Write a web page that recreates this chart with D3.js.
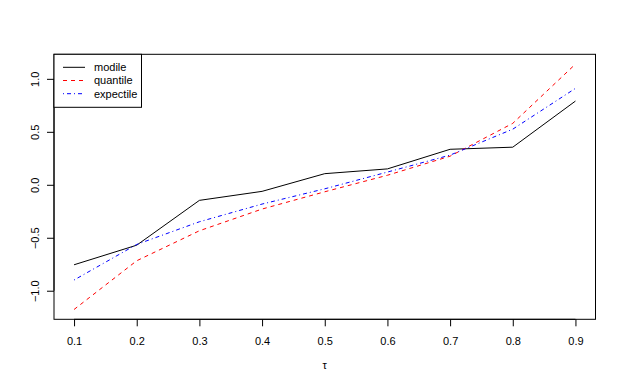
<!DOCTYPE html>
<html>
<head>
<meta charset="utf-8">
<script src="https://cdn.jsdelivr.net/npm/d3@7"></script>
<style>
  body { margin: 0; background: #fff; }
  svg text { font-family: "Liberation Sans", Arial, sans-serif; font-size: 11px; fill: #000; }
</style>
</head>
<body>
<div id="chart"></div>
<script>
// values
var tau = [0.1, 0.2, 0.3, 0.4, 0.5, 0.6, 0.7, 0.8, 0.9];
var modile    = [-0.755, -0.57, -0.147, -0.062, 0.105, 0.15, 0.335, 0.355, 0.79];
var quantile  = [-1.177, -0.717, -0.434, -0.229, -0.066, 0.09, 0.27, 0.58, 1.139];
var expectile = [-0.899, -0.563, -0.349, -0.182, -0.038, 0.12, 0.28, 0.525, 0.91];
var xTicks = [0.1, 0.2, 0.3, 0.4, 0.5, 0.6, 0.7, 0.8, 0.9];
var yTicks = [-1.0, -0.5, 0.0, 0.5, 1.0];
var seriesNames = ["modile", "quantile", "expectile"];
var seriesColors = ["#000000", "#ff0000", "#0000ff"];
var seriesDash = [null, "4,4", "1,3,4,3"];

var width = 623, height = 387;
// plot region (window.top is reserved, so prefixed names)
var plotLeft = 54, plotRight = 595.5, plotTop = 54.3, plotBottom = 319.3;

var svg = d3.select("#chart").append("svg")
  .attr("width", width).attr("height", height);

// R style 4% padding on the data range
var xr = d3.extent(tau);
var xpad = (xr[1] - xr[0]) * 0.04;
var x = d3.scaleLinear().domain([xr[0] - xpad, xr[1] + xpad]).range([plotLeft, plotRight]);

var yr = d3.extent(modile.concat(quantile, expectile));
var ypad = (yr[1] - yr[0]) * 0.04;
var y = d3.scaleLinear().domain([yr[0] - ypad, yr[1] + ypad]).range([plotBottom, plotTop]);

var xAxis = svg.append("g")
  .attr("transform", "translate(0," + plotBottom + ")")
  .call(d3.axisBottom(x).tickValues(xTicks).tickSize(7).tickPadding(11).tickFormat(d3.format(".1f")));
xAxis.select(".domain").attr("d", "M" + x(xTicks[0]) + ",0H" + x(xTicks[xTicks.length - 1]));

var yAxis = svg.append("g")
  .attr("transform", "translate(" + plotLeft + ",0)")
  .call(d3.axisLeft(y).tickValues(yTicks).tickSize(7).tickFormat(function(d) {
    return d3.format(".1f")(d).replace("-", "\u2212");
  }));
yAxis.select(".domain").attr("d", "M0," + y(yTicks[0]) + "V" + y(yTicks[yTicks.length - 1]));
yAxis.selectAll(".tick text")
  .attr("x", 0).attr("dy", null)
  .attr("text-anchor", "middle")
  .attr("transform", "translate(-19,0) rotate(-90)")
  .attr("dominant-baseline", "central");
svg.selectAll(".tick text").style("font-family", "Liberation Sans, Arial, sans-serif").style("font-size", "11px");

// plot box
svg.append("rect")
  .attr("x", plotLeft).attr("y", plotTop)
  .attr("width", plotRight - plotLeft).attr("height", plotBottom - plotTop)
  .attr("fill", "none").attr("stroke", "#000").attr("stroke-width", 1);

var line = d3.line()
  .x(function(d, i) { return x(tau[i]); })
  .y(function(d) { return y(d); });

[modile, quantile, expectile].forEach(function(s, k) {
  svg.append("path")
    .datum(s)
    .attr("d", line)
    .attr("fill", "none")
    .attr("stroke", seriesColors[k])
    .attr("stroke-width", 1)
    .attr("stroke-dasharray", seriesDash[k]);
});

// axis title
svg.append("text")
  .attr("x", (plotLeft + plotRight) / 2).attr("y", 369)
  .attr("text-anchor", "middle")
  .text("\u03c4");

// legend
var lg = svg.append("g");
lg.append("rect")
  .attr("x", plotLeft).attr("y", plotTop)
  .attr("width", 87.5).attr("height", 53)
  .attr("fill", "#fff").attr("stroke", "#000");
seriesNames.forEach(function(n, k) {
  var yy = 67.3 + k * 13.2;
  lg.append("line")
    .attr("x1", 63).attr("x2", 85)
    .attr("y1", yy).attr("y2", yy)
    .attr("stroke", seriesColors[k])
    .attr("stroke-dasharray", seriesDash[k]);
  lg.append("text")
    .attr("x", 94).attr("y", yy)
    .attr("dy", "0.35em")
    .text(n);
});
</script>
</body>
</html>
